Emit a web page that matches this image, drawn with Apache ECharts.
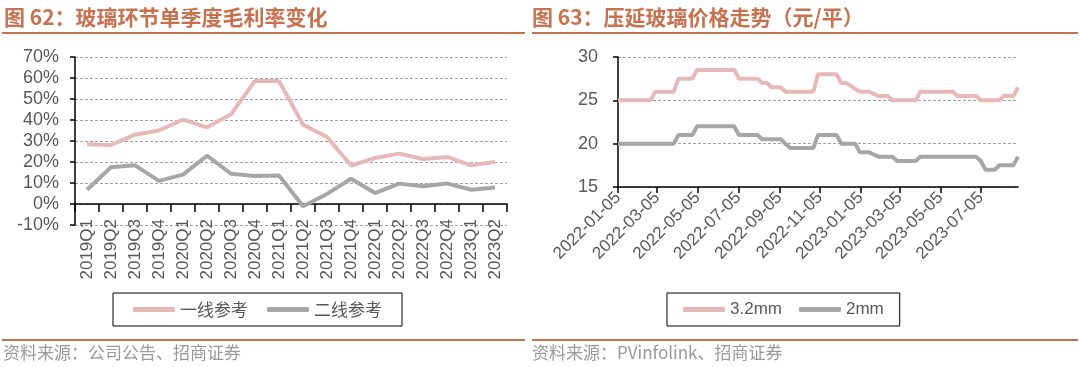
<!DOCTYPE html>
<html>
<head>
<meta charset="utf-8">
<script src="https://cdn.jsdelivr.net/npm/echarts@6/dist/echarts.min.js"></script>
<style>
html,body{margin:0;padding:0;background:#fff;}
#c{width:1080px;height:367px;}
</style>
</head>
<body>
<div id="c"></div>
<script>
// ---------- Chart 62 data ----------
const quarters = ['2019Q1','2019Q2','2019Q3','2019Q4','2020Q1','2020Q2','2020Q3','2020Q4','2021Q1','2021Q2','2021Q3','2021Q4','2022Q1','2022Q2','2022Q3','2022Q4','2023Q1','2023Q2'];
const tier1Margin = [28.4,28.1,33.0,35.0,40.2,36.5,42.7,58.6,58.6,37.8,31.9,18.3,21.9,24.0,21.4,22.4,18.4,20.0];
const tier2Margin = [6.8,17.5,18.4,11.0,14.0,23.0,14.4,13.3,13.6,-1.1,4.8,12.0,5.2,9.7,8.4,9.8,6.8,7.9];

// ---------- Chart 63 data ----------
const weeks = [
'2022-01-05','2022-01-12','2022-01-19','2022-01-26','2022-02-02','2022-02-09','2022-02-16','2022-02-23',
'2022-03-02','2022-03-09','2022-03-16','2022-03-23','2022-03-30','2022-04-06','2022-04-13','2022-04-20','2022-04-27',
'2022-05-04','2022-05-11','2022-05-18','2022-05-25','2022-06-01','2022-06-08','2022-06-15','2022-06-22','2022-06-29',
'2022-07-06','2022-07-13','2022-07-20','2022-07-27','2022-08-03','2022-08-10','2022-08-17','2022-08-24','2022-08-31',
'2022-09-07','2022-09-14','2022-09-21','2022-09-28','2022-10-05','2022-10-12','2022-10-19','2022-10-26',
'2022-11-02','2022-11-09','2022-11-16','2022-11-23','2022-11-30','2022-12-07','2022-12-14','2022-12-21','2022-12-28',
'2023-01-04','2023-01-11','2023-01-18','2023-01-25','2023-02-01','2023-02-08','2023-02-15','2023-02-22',
'2023-03-01','2023-03-08','2023-03-15','2023-03-22','2023-03-29','2023-04-05','2023-04-12','2023-04-19','2023-04-26',
'2023-05-03','2023-05-10','2023-05-17','2023-05-24','2023-05-31','2023-06-07','2023-06-14','2023-06-21','2023-06-28',
'2023-07-05','2023-07-12','2023-07-19','2023-07-26','2023-08-02','2023-08-09','2023-08-16','2023-08-23','2023-08-30'
];
const price32mm = [
25,25,25,25,25,25,25,25,
26,26,26,26,26,27.5,27.5,27.5,27.5,
28.5,28.5,28.5,28.5,28.5,28.5,28.5,28.5,28.5,
27.5,27.5,27.5,27.5,27.5,27,27,26.5,26.5,
26.5,26,26,26,26,26,26,26,
28,28,28,28,28,27,27,26.7,26.3,
26,26,26,25.75,25.5,25.5,25.5,25,
25,25,25,25,25,26,26,26,26,
26,26,26,26,25.5,25.5,25.5,25.5,25.5,
25,25,25,25,25,25.5,25.5,25.5,26.5
];
const price2mm = [
20,20,20,20,20,20,20,20,
20,20,20,20,20,21,21,21,21,
22,22,22,22,22,22,22,22,22,
21,21,21,21,21,20.5,20.5,20.5,20.5,
20.5,20,19.5,19.5,19.5,19.5,19.5,19.5,
21,21,21,21,21,20,20,20,20,
19,19,19,18.75,18.5,18.5,18.5,18.5,
18,18,18,18,18,18.5,18.5,18.5,18.5,
18.5,18.5,18.5,18.5,18.5,18.5,18.5,18.5,18.5,
18,17,17,17,17.5,17.5,17.5,17.5,18.5
];
const dateTickLabels = ['2022-01-05','2022-03-05','2022-05-05','2022-07-05','2022-09-05','2022-11-05','2023-01-05','2023-03-05','2023-05-05','2023-07-05'];

// ---------- styles ----------
const latin = "'Liberation Sans', Arial, 'Noto Sans CJK SC', sans-serif";
const cjk = "'Noto Sans CJK SC', 'Liberation Sans', sans-serif";
const brown = '#C8714F';
const labelColor = '#595959';
const pink = '#E6B9B8';
const grey = '#A6A6A6';
const axisLine = {color:'#000', width:1.5};
const gridDash = {color:'#A0A0A0', width:1, type:[3,2]};

const toTs = s => echarts.number.parseDate(s).getTime();
const tickVals = dateTickLabels.map(toTs);
const pad2 = n => (n < 10 ? '0' : '') + n;
const fmtDate = v => { const d = new Date(v); return d.getFullYear() + '-' + pad2(d.getMonth()+1) + '-' + pad2(d.getDate()); };

const chart = echarts.init(document.getElementById('c'), null, {renderer:'canvas'});
chart.setOption({
  animation:false,
  backgroundColor:'#fff',
  title:[
    {text:'图 62：玻璃环节单季度毛利率变化', left:4, top:7, padding:0,
     textStyle:{fontSize:21, fontWeight:'bold', color:brown, fontFamily:cjk}},
    {text:'图 63：压延玻璃价格走势（元/平）', left:532, top:7, padding:0,
     textStyle:{fontSize:21, fontWeight:'bold', color:brown, fontFamily:cjk}},
    {text:'资料来源：公司公告、招商证券', left:3, top:344, padding:0,
     textStyle:{fontSize:17, fontWeight:'normal', color:'#999999', fontFamily:cjk}},
    {text:'资料来源：PVinfolink、招商证券', left:532, top:344, padding:0,
     textStyle:{fontSize:17, fontWeight:'normal', color:'#999999', fontFamily:cjk}}
  ],
  graphic:[
    {type:'line', shape:{x1:2, y1:33, x2:525, y2:33}, style:{stroke:brown, lineWidth:2}},
    {type:'line', shape:{x1:532, y1:33, x2:1078, y2:33}, style:{stroke:brown, lineWidth:2}},
    {type:'line', shape:{x1:2, y1:340, x2:525, y2:340}, style:{stroke:brown, lineWidth:2}},
    {type:'line', shape:{x1:532, y1:340, x2:1078, y2:340}, style:{stroke:brown, lineWidth:2}}
  ],
  legend:[
    {data:['一线参考','二线参考'], left:113, top:293, padding:[8,20], itemGap:19,
     itemWidth:42, itemHeight:5, icon:'roundRect', borderColor:'#000', borderWidth:1,
     textStyle:{fontSize:17, color:labelColor, fontFamily:cjk}},
    {data:['3.2mm','2mm'], left:667, top:293, padding:[8,16], itemGap:17,
     itemWidth:42, itemHeight:5, icon:'roundRect', borderColor:'#000', borderWidth:1,
     textStyle:{fontSize:17, color:labelColor, fontFamily:latin}}
  ],
  grid:[
    {left:75, top:57, width:432, height:168},
    {left:618, top:57, width:400, height:130}
  ],
  xAxis:[
    {type:'category', gridIndex:0, position:'bottom', data:quarters, boundaryGap:true,
     axisLine:{onZero:true, lineStyle:axisLine},
     axisTick:{show:true, interval:0, length:8, lineStyle:axisLine},
     axisLabel:{show:false}, splitLine:{show:false}},
    {type:'category', gridIndex:0, position:'bottom', data:quarters, boundaryGap:true,
     axisLine:{show:false, onZero:false}, axisTick:{show:false},
     axisLabel:{rotate:90, interval:0, margin:-6, fontSize:17, color:labelColor, fontFamily:latin},
     splitLine:{show:false}},
    {type:'value', gridIndex:1, position:'bottom', min:toTs(weeks[0]), max:toTs(weeks[weeks.length-1]),
     axisLine:{onZero:false, lineStyle:axisLine},
     axisTick:{show:true, customValues:tickVals, length:6, lineStyle:axisLine},
     axisLabel:{customValues:tickVals, rotate:45, margin:8, fontSize:17, color:labelColor, fontFamily:latin,
       formatter:fmtDate},
     splitLine:{show:false}}
  ],
  yAxis:[
    {type:'value', gridIndex:0, min:-10, max:70, interval:10,
     axisLine:{show:true, onZero:false, lineStyle:axisLine},
     axisTick:{show:true, length:5, lineStyle:axisLine},
     axisLabel:{formatter:'{value}%', fontSize:18, margin:16, color:labelColor, fontFamily:latin},
     splitLine:{show:true, lineStyle:gridDash}},
    {type:'value', gridIndex:1, min:15, max:30, interval:5,
     axisLine:{show:true, onZero:false, lineStyle:axisLine},
     axisTick:{show:true, length:5, lineStyle:axisLine},
     axisLabel:{fontSize:18, margin:20, color:labelColor, fontFamily:latin},
     splitLine:{show:true, lineStyle:gridDash}}
  ],
  series:[
    {name:'一线参考', type:'line', xAxisIndex:0, yAxisIndex:0, data:tier1Margin,
     showSymbol:false, symbol:'none', lineStyle:{color:pink, width:4}, itemStyle:{color:pink}},
    {name:'二线参考', type:'line', xAxisIndex:0, yAxisIndex:0, data:tier2Margin,
     showSymbol:false, symbol:'none', lineStyle:{color:grey, width:4}, itemStyle:{color:grey}},
    {name:'3.2mm', type:'line', xAxisIndex:2, yAxisIndex:1,
     data:weeks.map((d,i)=>[toTs(d), price32mm[i]]),
     showSymbol:false, symbol:'none', lineStyle:{color:pink, width:4}, itemStyle:{color:pink}},
    {name:'2mm', type:'line', xAxisIndex:2, yAxisIndex:1,
     data:weeks.map((d,i)=>[toTs(d), price2mm[i]]),
     showSymbol:false, symbol:'none', lineStyle:{color:grey, width:4}, itemStyle:{color:grey}}
  ]
});
</script>
</body>
</html>
